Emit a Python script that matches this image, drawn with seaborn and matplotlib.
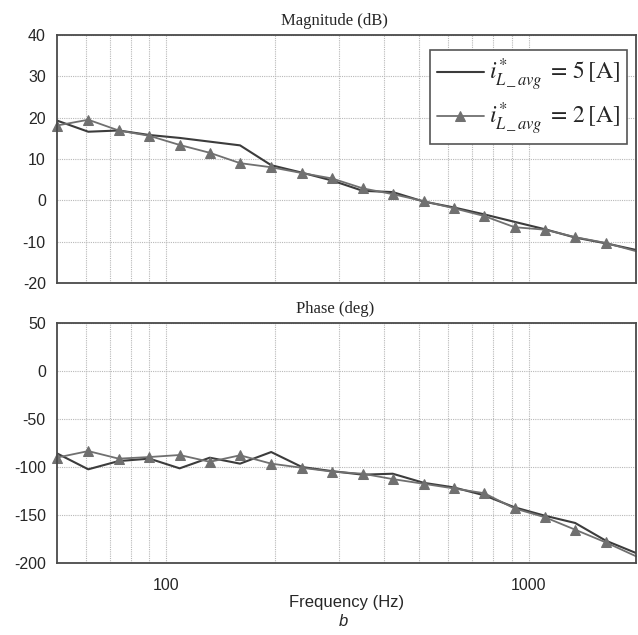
import numpy as np
import pandas as pd
import seaborn as sns
import matplotlib.pyplot as plt
from matplotlib.ticker import FixedLocator, NullFormatter

# Data (frequency in Hz)
freq = [50, 61, 74, 90, 109, 132, 160, 195, 237, 287,
        349, 422, 514, 621, 755, 915, 1111, 1345, 1633, 1980]

mag_5A = [19.3, 16.6, 16.9, 15.8, 15.1, 14.2, 13.3, 8.5, 6.7, 4.8,
          2.3, 2.0, -0.3, -1.7, -3.4, -5.2, -7.0, -9.0, -10.4, -12.0]
mag_2A = [18.1, 19.5, 16.9, 15.6, 13.4, 11.5, 9.0, 8.0, 6.6, 5.3,
          2.9, 1.5, -0.2, -1.9, -3.8, -6.5, -7.1, -8.9, -10.3, -12.3]

phase_5A = [-85.8, -102.4, -93.8, -91.3, -101.4, -90.3, -96.5, -84.4, -100.0, -104.3,
            -108.0, -107.0, -116.5, -121.2, -129.5, -142.0, -150.8, -158.3, -176.7, -189.6]
phase_2A = [-90.2, -83.4, -91.3, -89.6, -87.5, -94.6, -87.8, -96.5, -100.8, -104.8,
            -107.0, -112.6, -117.5, -122.3, -127.3, -143.2, -152.4, -165.3, -178.5, -193.0]

labels = [r"$i^{*}_{L\,\_\,avg}\;=\,5\,[\mathrm{A}]$",
          r"$i^{*}_{L\,\_\,avg}\;=\,2\,[\mathrm{A}]$"]

df = pd.DataFrame({"freq": freq, "mag5": mag_5A, "mag2": mag_2A,
                   "ph5": phase_5A, "ph2": phase_2A})

sns.set_style("white")
plt.rcParams["font.family"] = ["Liberation Sans", "DejaVu Sans"]
plt.rcParams["mathtext.fontset"] = "stix"
plt.rcParams["axes.unicode_minus"] = False

fig = plt.figure(figsize=(6.38, 6.35), dpi=100)
ax1 = fig.add_axes([0.0893, 0.5543, 0.9076, 0.3906])
ax2 = fig.add_axes([0.0893, 0.1134, 0.9076, 0.3779])

c5 = "#3c3c3c"
c2 = "#707070"
minor_f = [60, 70, 80, 90, 200, 300, 400, 500, 600, 700, 800, 900]


def style_axes(ax, ylim, yticks, title):
    ax.set_xscale("log")
    ax.set_xlim(freq[0], freq[-1])
    ax.set_ylim(*ylim)
    ax.set_yticks(yticks)
    ax.xaxis.set_major_locator(FixedLocator([100, 1000]))
    ax.xaxis.set_minor_locator(FixedLocator(minor_f))
    ax.xaxis.set_minor_formatter(NullFormatter())
    ax.grid(True, which="both", color="#b8b8b8", linestyle=(0, (1, 1)), linewidth=0.8)
    ax.tick_params(axis="both", which="both", length=0, labelsize=11.5, pad=8)
    for s in ax.spines.values():
        s.set_color("#4a4a4a")
        s.set_linewidth(1.3)
    ax.set_title(title, family=["Liberation Serif"], fontsize=12, x=0.48, pad=7)
    ax.set_xlabel("")
    ax.set_ylabel("")


sns.lineplot(data=df, x="freq", y="mag5", ax=ax1, color=c5, lw=1.5, label=labels[0])
sns.lineplot(data=df, x="freq", y="mag2", ax=ax1, color=c2, lw=1.3, marker="^",
             markersize=7, markeredgecolor=c2, markevery=slice(0, -1),
             clip_on=False, label=labels[1])
style_axes(ax1, (-20, 40), np.arange(-20, 41, 10), "Magnitude (dB)")
ax1.set_xticklabels([])

leg = ax1.legend(loc="upper right", bbox_to_anchor=(0.984, 0.941), fontsize=17,
                 frameon=True, fancybox=False, handlelength=2.0, handletextpad=0.2,
                 borderpad=0.3, labelspacing=0.3, borderaxespad=0)
leg.get_frame().set_edgecolor("#555555")
leg.get_frame().set_linewidth(1.2)
leg.get_frame().set_alpha(1)

sns.lineplot(data=df, x="freq", y="ph5", ax=ax2, color=c5, lw=1.5, legend=False)
sns.lineplot(data=df, x="freq", y="ph2", ax=ax2, color=c2, lw=1.3, marker="^",
             markersize=7, markeredgecolor=c2, markevery=slice(0, -1),
             clip_on=False, legend=False)
style_axes(ax2, (-200, 50), np.arange(-200, 51, 50), "Phase (deg)")
ax2.set_xticklabels(["100", "1000"])
ax2.tick_params(axis="x", pad=11)
ax2.set_xlabel("Frequency (Hz)", fontsize=12, labelpad=1)

fig.text(0.538, 0.021, "b", fontsize=12, style="italic", ha="center", va="center")

fig.savefig("out.png", dpi=100)
